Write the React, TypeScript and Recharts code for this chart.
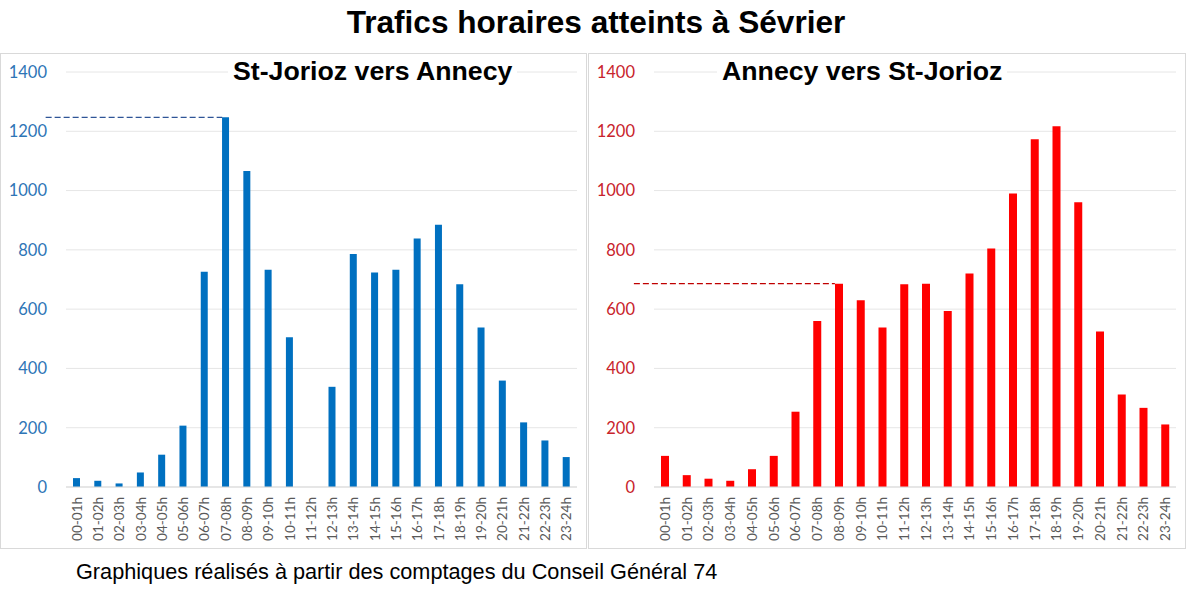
import { BarChart, Bar, XAxis, YAxis, CartesianGrid, ReferenceLine } from "recharts";

const hours = [
  "00-01h", "01-02h", "02-03h", "03-04h", "04-05h", "05-06h", "06-07h", "07-08h",
  "08-09h", "09-10h", "10-11h", "11-12h", "12-13h", "13-14h", "14-15h", "15-16h",
  "16-17h", "17-18h", "18-19h", "19-20h", "20-21h", "21-22h", "22-23h", "23-24h",
];

// St-Jorioz -> Annecy (11-12h missing in the counts)
const towardAnnecy = [
  30, 21, 12, 49, 109, 207, 726, 1247, 1066, 733, 505, null, 338, 786, 724, 733,
  838, 885, 684, 538, 359, 218, 157, 101,
];

// Annecy -> St-Jorioz
const towardStJorioz = [
  105, 40, 28, 21, 60, 105, 254, 560, 686, 630, 538, 684, 686, 594, 720, 805,
  990, 1173, 1217, 961, 525, 312, 267, 211,
];

const yTicks = [0, 200, 400, 600, 800, 1000, 1200, 1400];

// dashed marker in each panel
const markAnnecy = { from: "00-01h", to: "07-08h", value: 1247 };
const markStJorioz = { from: "00-01h", to: "08-09h", value: 686 };

const HourTick = ({ x, y, payload }: any) => (
  <text
    x={x}
    y={y}
    transform={`rotate(-90 ${x} ${y})`}
    textAnchor="end"
    dominantBaseline="central"
    fontSize={13.5}
    fill="#595959"
    fontFamily="Lato, 'Open Sans', sans-serif"
  >
    {payload.value}
  </text>
);

const dashedShape = (color: string, halfBar: number) => (props: any) => (
  <line
    x1={props.x1 - 31}
    y1={props.y1}
    x2={props.x2 - halfBar}
    y2={props.y2}
    stroke={color}
    strokeWidth={1.2}
    strokeDasharray="6 3"
  />
);

interface PanelProps {
  values: (number | null)[];
  width: number;
  color: string;
  tickColor: string;
  dashColor: string;
  barSize: number;
  mark: { from: string; to: string; value: number };
}

const Panel = ({ values, width, color, tickColor, dashColor, barSize, mark }: PanelProps) => {
  const data = hours.map((h, i) => ({ hour: h, value: values[i] }));
  return (
    <BarChart width={width} height={496} data={data} margin={{ top: 19, right: 10, bottom: 0, left: 0 }}>
      <CartesianGrid vertical={false} stroke="#e6e6e6" />
      <XAxis
        dataKey="hour"
        interval={0}
        height={62}
        tickLine={false}
        axisLine={{ stroke: "#d9d9d9" }}
        tickMargin={4}
        tick={<HourTick />}
      />
      <YAxis
        domain={[0, 1400]}
        ticks={yTicks}
        width={66}
        tickLine={false}
        axisLine={false}
        tickMargin={13}
        tick={{ fill: tickColor, fontSize: 16.5, fontFamily: "Lato, 'Open Sans', sans-serif" }}
      />
      <Bar dataKey="value" fill={color} barSize={barSize} isAnimationActive={false} />
      <ReferenceLine
        segment={[
          { x: mark.from, y: mark.value },
          { x: mark.to, y: mark.value },
        ]}
        shape={dashedShape(dashColor, barSize / 2)}
      />
    </BarChart>
  );
};

const subtitleStyle = {
  position: "absolute" as const,
  top: 56,
  padding: "0 5px",
  background: "#fff",
  fontSize: 26.7,
  fontWeight: "bold" as const,
  lineHeight: "30px",
};

const App = () => {
  return (
    <div
      style={{
        position: "relative",
        width: 1188,
        height: 600,
        background: "#fff",
        fontFamily: "Arial, 'Liberation Sans', sans-serif",
        overflow: "hidden",
      }}
    >
      <style>{`body{margin:0}`}</style>
      <div
        style={{
          position: "absolute",
          top: 3,
          left: 2,
          width: 1188,
          textAlign: "center",
          fontSize: 31.6,
          fontWeight: "bold",
          lineHeight: "38px",
          color: "#000",
        }}
      >
        Trafics horaires atteints à Sévrier
      </div>

      <div style={{ position: "absolute", left: 0, top: 53, width: 587, height: 496, boxSizing: "border-box", border: "1px solid #d9d9d9" }} />
      <div style={{ position: "absolute", left: 588, top: 53, width: 598, height: 496, boxSizing: "border-box", border: "1px solid #d9d9d9" }} />

      <div style={{ position: "absolute", left: 0, top: 53 }}>
        <Panel
          values={towardAnnecy}
          width={587}
          color="#0070C0"
          tickColor="#2E75B6"
          dashColor="#2F5597"
          barSize={7}
          mark={markAnnecy}
        />
      </div>
      <div style={{ position: "absolute", left: 588, top: 53 }}>
        <Panel
          values={towardStJorioz}
          width={598}
          color="#FF0000"
          tickColor="#C8232C"
          dashColor="#C00000"
          barSize={8}
          mark={markStJorioz}
        />
      </div>

      <div style={{ ...subtitleStyle, left: 228 }}>St-Jorioz vers Annecy</div>
      <div style={{ ...subtitleStyle, left: 717 }}>Annecy vers St-Jorioz</div>

      <div
        style={{
          position: "absolute",
          left: 76,
          top: 559,
          fontSize: 21.7,
          lineHeight: "25px",
          color: "#000",
        }}
      >
        Graphiques réalisés à partir des comptages du Conseil Général 74
      </div>
    </div>
  );
};

export default App;
